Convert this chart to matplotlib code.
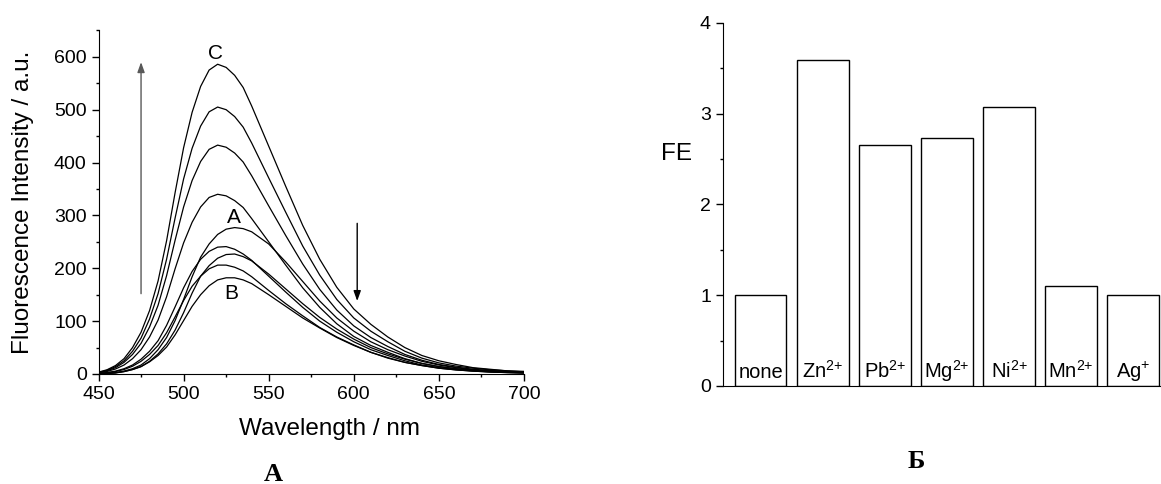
import matplotlib
matplotlib.use("Agg")
from matplotlib import pyplot as plt
from matplotlib.ticker import MultipleLocator

plt.rcParams['font.family'] = ['Liberation Sans', 'DejaVu Sans']
plt.rcParams['mathtext.fontset'] = 'custom'
plt.rcParams['mathtext.rm'] = 'Liberation Sans'
plt.rcParams['mathtext.it'] = 'Liberation Sans:italic'
plt.rcParams['mathtext.bf'] = 'Liberation Sans:bold'

# --- panel A: emission spectra ---
wavelength = [450, 455, 460, 465, 470, 475, 480, 485, 490, 495, 500, 505, 510, 515, 520,
              525, 530, 535, 540, 550, 560, 570, 580, 590, 600, 610, 620, 630, 640, 650,
              660, 670, 680, 690, 700]

spec_c = [3.5, 8, 16, 29, 50, 79, 120, 176, 252, 343, 428, 495, 544, 575, 586,
          580, 565, 542, 507, 431, 355, 281, 217, 164, 123, 94, 70, 50, 35, 25,
          18, 12, 9, 6, 5]
spec_505 = [3, 7, 14, 25, 43, 68, 104, 152, 217, 295, 369, 427, 469, 496, 505,
            500, 487, 467, 437, 371, 306, 242, 187, 141, 106, 81, 61, 43, 30, 21,
            15, 11, 8, 6, 4]
spec_433 = [2.6, 6, 12, 22, 37, 58, 89, 130, 186, 253, 316, 366, 402, 425, 433,
            429, 418, 401, 375, 318, 262, 208, 160, 121, 91, 69, 52, 37, 26, 18,
            13, 9, 6.5, 4.8, 3.5]
spec_340 = [2, 4.8, 9.5, 17, 29, 46, 70, 102, 146, 199, 248, 287, 316, 334, 340,
            337, 328, 315, 294, 250, 206, 163, 126, 95, 71, 54, 41, 29, 20, 14,
            10, 7, 5, 3.7, 2.7]
spec_a = [0.6, 1.2, 2.5, 5.5, 10, 17, 29, 46, 69, 101, 141, 184, 221, 246, 264,
          274, 277, 275, 269, 246, 212, 175, 138, 106, 81, 61, 46, 34, 24, 17,
          12, 8, 6, 4, 3]
spec_242 = [1.2, 2.7, 5.4, 10, 17, 28, 43, 63, 92, 127, 163, 194, 217, 232, 240,
            241, 236, 227, 215, 185, 155, 126, 100, 79, 61, 46, 35, 25, 17, 12,
            8.5, 6, 4.2, 3, 2.2]
spec_228 = [0.5, 1, 2, 4.5, 8.5, 14, 24, 38, 57, 83, 116, 153, 185, 205, 219,
            226, 227, 222, 214, 189, 161, 133, 107, 85, 66, 50, 38, 28, 20, 14,
            10, 7, 5, 3.5, 2.5]
spec_207 = [1, 2.3, 4.6, 8.5, 14.7, 24, 37, 54, 78, 108, 139, 166, 185, 199, 206,
            206, 202, 195, 184, 158, 133, 110, 88, 70, 55, 41, 31, 22, 16, 11,
            7.8, 5.5, 3.8, 2.7, 2]
spec_b = [0.4, 0.9, 2.3, 4.6, 8.4, 14, 23, 35, 51, 74, 101, 128, 150, 167, 178,
          182, 182, 178, 171, 150, 128, 106, 87, 69, 54, 41, 30, 22, 16, 11,
          7.8, 5.5, 3.8, 2.7, 1.9]

spectra = [spec_c, spec_505, spec_433, spec_340, spec_a, spec_242, spec_228, spec_207, spec_b]

# --- panel B: fluorescence enhancement ---
ions = ['none', r'Zn$^{2{+}}$', r'Pb$^{2{+}}$', r'Mg$^{2{+}}$',
        r'Ni$^{2{+}}$', r'Mn$^{2{+}}$', r'Ag$^{{+}}$']
fe = [1.0, 3.59, 2.65, 2.73, 3.07, 1.10, 1.0]

W, H = 1161, 484
fig = plt.figure(figsize=(W / 100, H / 100), dpi=100)


def px_axes(x0, y0, x1, y1):
    # pixel box (left, top, right, bottom) -> figure fraction
    return fig.add_axes([x0 / W, 1 - y1 / H, (x1 - x0) / W, (y1 - y0) / H])


ax = px_axes(98.5, 30.4, 524, 374)
for s in spectra:
    ax.plot(wavelength, s, color='black', lw=0.9)

ax.set_xlim(450, 700)
ax.xaxis.set_major_locator(MultipleLocator(50))
ax.xaxis.set_minor_locator(MultipleLocator(25))
ax.set_yticks(range(0, 700, 100))
ax.yaxis.set_minor_locator(MultipleLocator(50))
ax.set_ylim(0, 650)
ax.spines['top'].set_visible(False)
ax.spines['right'].set_visible(False)
ax.tick_params(which='major', direction='out', length=5, width=1, labelsize=14)
ax.tick_params(which='minor', direction='out', length=2.5, width=1)
ax.set_xlabel('Wavelength / nm', fontsize=17.5)
ax.set_ylabel('Fluorescence Intensity / a.u.', fontsize=17.5)
ax.xaxis.set_label_coords(0.544, -0.16)
ax.yaxis.set_label_coords(-0.177, 0.5)
ax.xaxis.label.set_va('center')
ax.yaxis.label.set_va('center')

ax.annotate('', xy=(475, 590), xytext=(475, 152),
            arrowprops=dict(arrowstyle='-|>,head_length=0.5,head_width=0.18',
                            color='0.35', lw=1, mutation_scale=12, shrinkA=0, shrinkB=0))
ax.annotate('', xy=(602, 138), xytext=(602, 285),
            arrowprops=dict(arrowstyle='-|>,head_length=0.5,head_width=0.18',
                            color='black', lw=1, mutation_scale=12, shrinkA=0, shrinkB=0))
ax.text(519, 606, 'C', fontsize=15, ha='center', va='center')
ax.text(529.5, 296, 'A', fontsize=15, ha='center', va='center')
ax.text(528, 153, 'B', fontsize=15, ha='center', va='center')

# right panel
ax2 = px_axes(722.7, 22.7, 1161, 386)
pos = range(1, len(fe) + 1)
ax2.bar(pos, fe, width=0.83, facecolor='white', edgecolor='black', lw=1)
for p, lab in zip(pos, ions):
    ax2.text(p, 0.09, lab, fontsize=14.5, ha='center', va='baseline')
ax2.set_xlim(0.387, 7.45)
ax2.set_ylim(0, 4)
ax2.yaxis.set_major_locator(MultipleLocator(1))
ax2.yaxis.set_minor_locator(MultipleLocator(0.5))
ax2.set_xticks([])
ax2.spines['top'].set_visible(False)
ax2.spines['right'].set_visible(False)
ax2.tick_params(which='major', direction='out', length=5, width=1, labelsize=14)
ax2.tick_params(which='minor', direction='out', length=2.5, width=1)
ax2.set_ylabel('FE', fontsize=17.5, rotation=0, va='center', ha='center')
ax2.yaxis.set_label_coords(-0.1065, 0.639)

fig.text(273 / W, 1 - 474.5 / H, 'A', family='Liberation Serif', fontweight='bold',
         fontsize=19, ha='center', va='center')
fig.text(916 / W, 1 - 462 / H, 'Б', family='Liberation Serif', fontweight='bold',
         fontsize=19, ha='center', va='center')

fig.savefig('out.png', dpi=100)
